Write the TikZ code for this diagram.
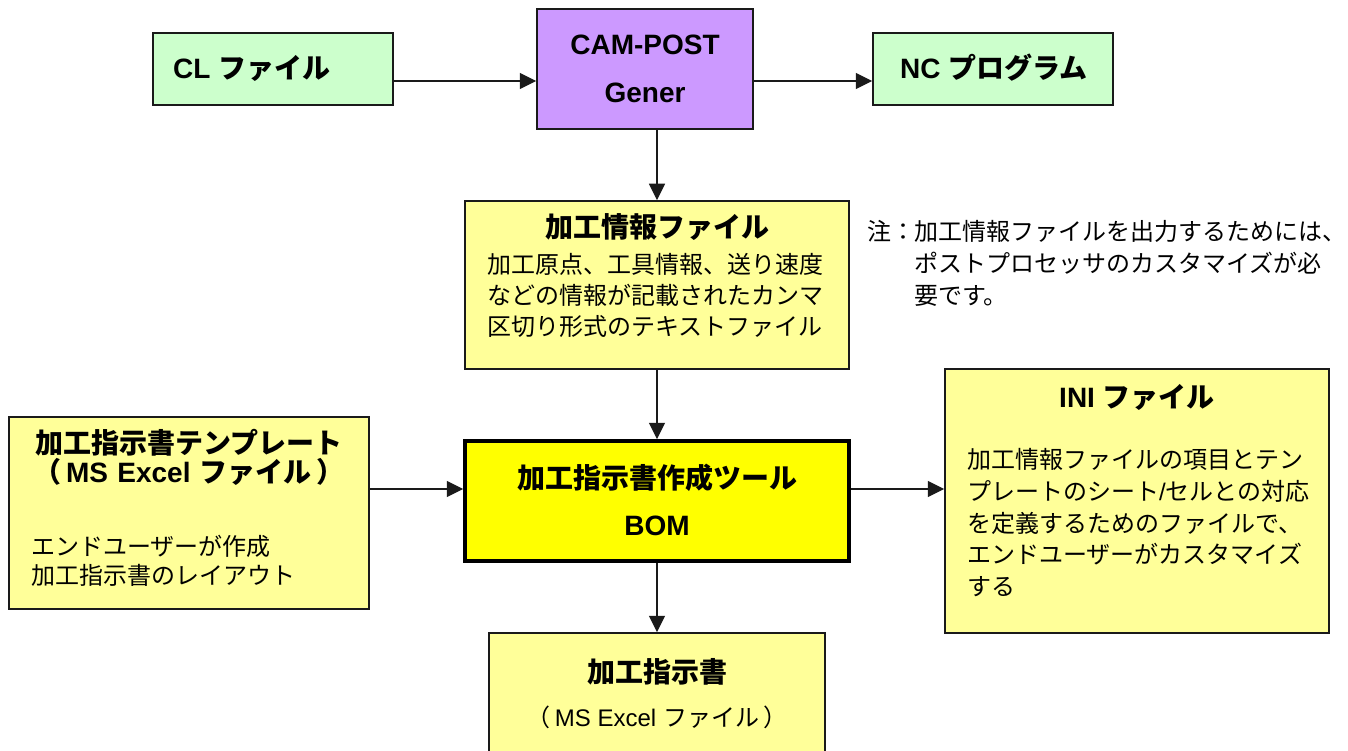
\documentclass[tikz,border=0pt]{standalone}
\usepackage{fontspec}
\setmainfont{Noto Sans CJK JP}
\newfontfamily\lat{Liberation Sans}
\usetikzlibrary{arrows.meta}
\definecolor{boxgreen}{HTML}{CCFFCC}
\definecolor{boxpurple}{HTML}{CC99FF}
\definecolor{boxpale}{HTML}{FFFF99}
\definecolor{boxyellow}{HTML}{FFFF00}
\definecolor{edge}{HTML}{1A1A1A}
\begin{document}
\begin{tikzpicture}[x=1pt,y=-1pt,
  box/.style={draw=edge, line width=1.5pt, rectangle, inner sep=0pt},
  ttl/.style={font=\fontsize{28}{34}\selectfont\bfseries, inner sep=0pt},
  body/.style={font=\fontsize{24}{31}\selectfont, inner sep=0pt, align=left},
  arr/.style={draw=edge, line width=1.5pt, -{Triangle[length=16.5pt,width=16pt]}},
]
\useasboundingbox (0,0) rectangle (1348,751);
\clip (0,0) rectangle (1348,751);
\fill[white] (0,0) rectangle (1348,751);

% boxes
\node[box, fill=boxgreen, minimum width=240pt, minimum height=72pt] (cl) at (273,69) {};
\node[box, fill=boxpurple, minimum width=216pt, minimum height=120pt] (cam) at (645,69) {};
\node[box, fill=boxgreen, minimum width=240pt, minimum height=72pt] (nc) at (993,69) {};
\node[box, fill=boxpale, minimum width=384pt, minimum height=168pt] (info) at (657,285) {};
\node[box, fill=boxpale, minimum width=360pt, minimum height=192pt] (tpl) at (189,513) {};
\node[box, fill=boxyellow, draw=black, line width=3.5pt, minimum width=384pt, minimum height=120pt] (bom) at (657,501) {};
\node[box, fill=boxpale, minimum width=384pt, minimum height=264pt] (ini) at (1137,501) {};
\node[box, fill=boxpale, minimum width=336pt, minimum height=200pt] (out) at (657,733) {};

% texts
\node[ttl, anchor=base west] (cltext) at (173,79) {{\lat CL }ファイル};
\node[ttl, anchor=base, text width=200pt, align=center, font=\lat\fontsize{28}{48}\selectfont\bfseries] (camtext) at (645,55) {CAM-POST\\Gener};
\node[ttl, anchor=base west] (nctext) at (900,79) {{\lat NC }プログラム};

\node[ttl, anchor=base] (infotitle) at (657,238) {加工情報ファイル};
\node[body, anchor=base west, text width=360pt] (infobody) at (487,273.6) {加工原点、工具情報、送り速度\\などの情報が記載されたカンマ\\区切り形式のテキストファイル};

\node[body, anchor=base west] (notelabel) at (867,240.6) {注：};
\node[body, anchor=base west, text width=440pt, font=\fontsize{24}{32}\selectfont] (notebody) at (914,240.6) {加工情報ファイルを出力するためには、\\ポストプロセッサのカスタマイズが必\\要です。};

\node[ttl, anchor=base, text width=350pt, align=center, font=\fontsize{28}{29}\selectfont\bfseries] (tpltitle) at (189,453) {加工指示書テンプレート\\（{\lat\,MS Excel }ファイル\,）};
\node[body, anchor=base west, text width=320pt, font=\fontsize{24}{29}\selectfont] (tplbody) at (31,555.6) {エンドユーザーが作成\\加工指示書のレイアウト};

\node[ttl, anchor=base] (bomtitle) at (657,488) {加工指示書作成ツール};
\node[ttl, anchor=base] (bomname) at (657,535) {\lat BOM};

\node[ttl, anchor=base] (inititle) at (1137,407) {{\lat INI }ファイル};
\node[body, anchor=base west, text width=350pt, font=\fontsize{24}{31.7}\selectfont] (inibody) at (967,468.6) {加工情報ファイルの項目とテン\\プレートのシート{\lat /}セルとの対応\\を定義するためのファイルで、\\エンドユーザーがカスタマイズ\\する};

\node[ttl, anchor=base] (outtitle) at (657,682) {加工指示書};
\node[body, anchor=base] (outsub) at (657,726.6) {（{\lat\,MS Excel }ファイル\,）};

% connectors
\coordinate (toprow) at (0,81);
\coordinate (midrow) at (0,489);
\draw[arr] (cl.east |- toprow) -- (cam.west |- toprow);
\draw[arr] (cam.east |- toprow) -- (nc.west |- toprow);
\draw[arr] (cam.south -| info.north) -- (info.north);
\draw[arr] (info.south) -- (bom.north);
\draw[arr] (tpl.east |- midrow) -- (bom.west |- midrow);
\draw[arr] (bom.east |- midrow) -- (ini.west |- midrow);
\draw[arr] (bom.south) -- (out.north);
\end{tikzpicture}
\end{document}
